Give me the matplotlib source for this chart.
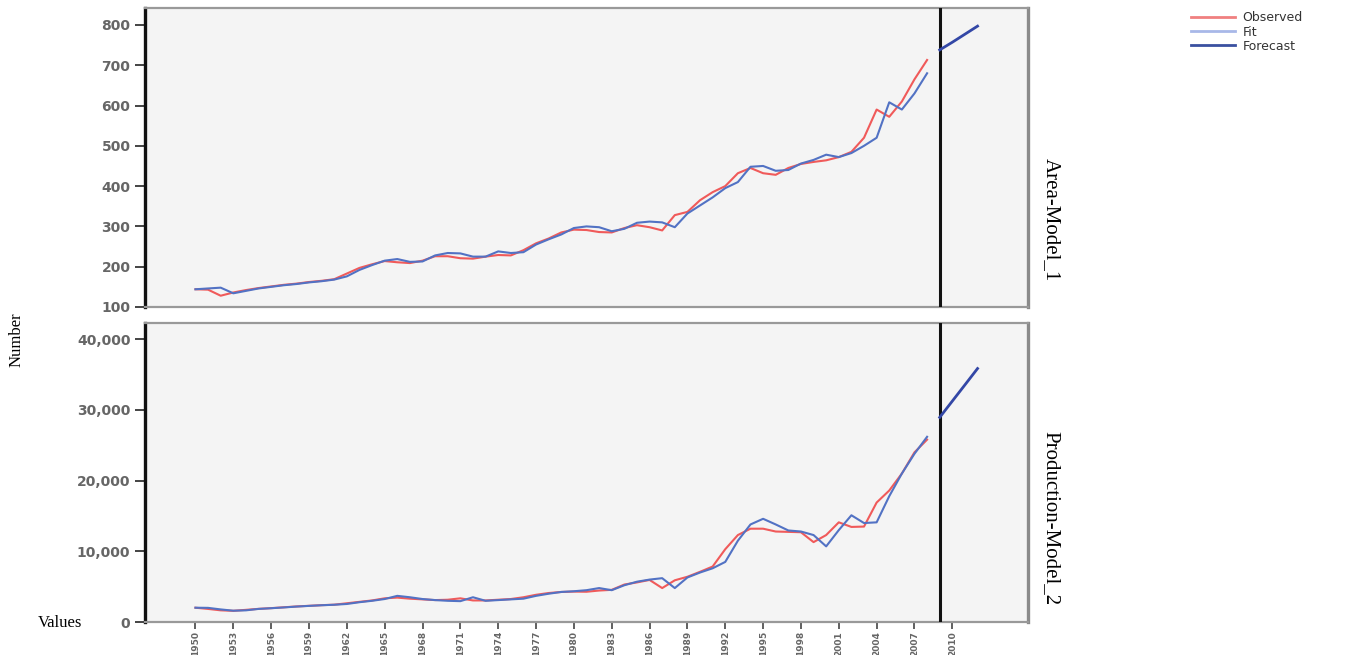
import matplotlib
matplotlib.use("Agg")
import matplotlib.pyplot as plt
from matplotlib.lines import Line2D
from matplotlib.ticker import FuncFormatter

# Years of the observed / fitted series and of the forecast
years = list(range(1950, 2009))
forecast_years = [2009, 2010, 2011, 2012]
tick_years = list(range(1950, 2011, 3))

# Area-Model_1
area_observed = [
    144, 143, 128, 136, 142, 147, 151, 155, 158, 162,
    165, 169, 183, 197, 206, 214, 211, 209, 215, 226,
    226, 221, 220, 225, 229, 228, 241, 258, 270, 285,
    292, 291, 286, 285, 296, 303, 298, 290, 328, 336,
    365, 385, 400, 432, 445, 432, 428, 445, 455, 460,
    464, 472, 485, 520, 590, 572, 610, 665, 713,
]
area_fit = [
    144, 146, 148, 134, 140, 146, 150, 154, 157, 161,
    164, 168, 176, 192, 204, 215, 219, 212, 213, 228,
    234, 233, 225, 225, 238, 234, 236, 255, 268, 280,
    296, 300, 298, 288, 294, 309, 312, 310, 298, 332,
    352, 372, 395, 410, 448, 450, 438, 440, 456, 465,
    478, 472, 482, 500, 520, 608, 590, 630, 680,
]
area_forecast = [738, 757, 777, 797]

# Production-Model_2
prod_observed = [
    2020, 1850, 1650, 1580, 1720, 1860, 1960, 2080, 2200, 2290,
    2380, 2450, 2650, 2850, 3050, 3350, 3450, 3300, 3200, 3100,
    3150, 3350, 3050, 3050, 3150, 3250, 3500, 3850, 4100, 4250,
    4300, 4280, 4450, 4550, 5300, 5600, 5950, 4800, 5900, 6400,
    7100, 7850, 10300, 12300, 13200, 13200, 12800, 12750, 12700, 11300,
    12300, 14100, 13450, 13500, 16900, 18600, 21000, 24000, 25800,
]
prod_fit = [
    2020, 2000, 1780, 1600, 1650, 1850, 1950, 2060, 2180, 2280,
    2370, 2440, 2550, 2800, 3000, 3250, 3700, 3500, 3250, 3100,
    3000, 2950, 3500, 3000, 3100, 3200, 3300, 3700, 4000, 4250,
    4350, 4500, 4800, 4500, 5200, 5700, 6000, 6200, 4800, 6300,
    7000, 7600, 8500, 11500, 13800, 14600, 13800, 12950, 12800, 12300,
    10700, 13000, 15100, 14000, 14100, 17800, 21000, 23800, 26200,
]
prod_forecast = [28950, 31250, 33550, 35860]

area_ticks = [100, 200, 300, 400, 500, 600, 700, 800]
prod_ticks = [0, 10000, 20000, 30000, 40000]

RED = "#f05a5a"
BLUE = "#5272c4"
DARK_BLUE = "#3347a6"
TICK_GRAY = "#666666"

fig = plt.figure(figsize=(13.51, 6.55), dpi=100)
ax1 = fig.add_axes([145 / 1351, 1 - 307 / 655, 883 / 1351, 299 / 655])
ax2 = fig.add_axes([145 / 1351, 1 - 622 / 655, 883 / 1351, 299 / 655])


def style_axis(ax):
    ax.set_facecolor("#f4f4f4")
    ax.set_xlim(1946, 2016)
    ax.spines["left"].set_color("#111111")
    ax.spines["left"].set_linewidth(2.4)
    ax.spines["top"].set_color("#999999")
    ax.spines["top"].set_linewidth(1.6)
    ax.spines["right"].set_color("#8a8a8a")
    ax.spines["right"].set_linewidth(2.4)
    ax.spines["bottom"].set_color("#999999")
    ax.spines["bottom"].set_linewidth(1.6)
    ax.tick_params(axis="y", direction="out", length=7, width=1.4,
                   color="#444444", labelcolor=TICK_GRAY, labelsize=10)
    ax.axvline(2009, color="#111111", lw=2.2, zorder=4)


for ax, obs, fit, fc in [(ax1, area_observed, area_fit, area_forecast),
                         (ax2, prod_observed, prod_fit, prod_forecast)]:
    style_axis(ax)
    ax.plot(years, obs, color=RED, lw=1.5, zorder=3)
    ax.plot(years, fit, color=BLUE, lw=1.5, zorder=3)
    ax.plot(forecast_years, fc, color=DARK_BLUE, lw=2.0, zorder=5)

ax1.set_ylim(100, 842)
ax1.set_yticks(area_ticks)
ax1.set_xticks([])
for lbl in ax1.get_yticklabels():
    lbl.set_fontweight("bold")

ax2.set_ylim(0, 42300)
ax2.set_yticks(prod_ticks)
ax2.yaxis.set_major_formatter(FuncFormatter(lambda v, p: f"{int(v):,}"))
for lbl in ax2.get_yticklabels():
    lbl.set_fontweight("bold")
ax2.set_xticks(tick_years)
ax2.set_xticklabels([str(y) for y in tick_years], rotation=90,
                    fontsize=6.5, color=TICK_GRAY, fontweight="bold")
ax2.tick_params(axis="x", direction="out", length=5, width=1.2,
                color="#444444", pad=1.5)

serif = "Liberation Serif"
fig.text(17 / 1351, 1 - 340 / 655, "Number", rotation=90, family=serif,
         fontsize=12, ha="center", va="center")
fig.text(60 / 1351, 1 - 623 / 655, "Values", family=serif,
         fontsize=12, ha="center", va="center")
fig.text(1051 / 1351, 1 - 220 / 655, "Area-Model_1", rotation=270,
         family=serif, fontsize=15, ha="center", va="center")
fig.text(1051 / 1351, 1 - 518 / 655, "Production-Model_2", rotation=270,
         family=serif, fontsize=15, ha="center", va="center")

handles = [
    Line2D([], [], color="#f08080", lw=2),
    Line2D([], [], color="#a8b8e8", lw=2),
    Line2D([], [], color="#3a50a0", lw=2),
]
fig.legend(handles, ["Observed", "Fit", "Forecast"], loc="upper left",
           bbox_to_anchor=(1180 / 1351, 1.0), frameon=False, fontsize=9,
           handlelength=3.5, labelspacing=0.1, handletextpad=0.6,
           labelcolor="#333333")

fig.savefig("out.png", dpi=100)
